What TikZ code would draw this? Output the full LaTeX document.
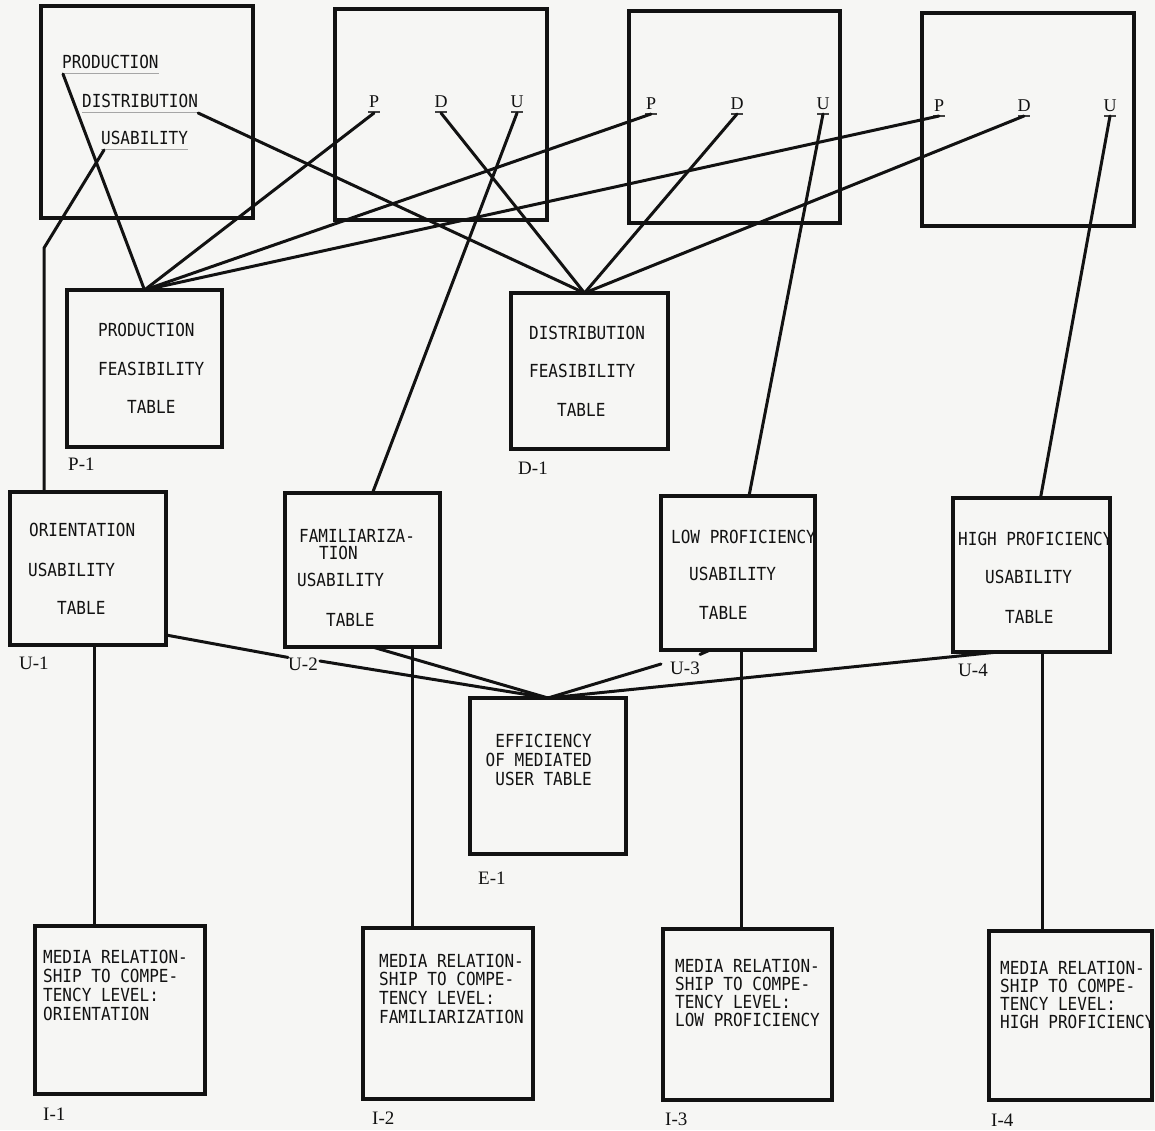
\documentclass[tikz,border=0pt]{standalone}
\usepackage{fontspec}
\usetikzlibrary{calc}
\newfontfamily\tw[FakeStretch=0.89]{DejaVu Sans Mono}
\newfontfamily\lb{Liberation Serif}
\definecolor{paper}{RGB}{246,246,244}
\definecolor{ink}{RGB}{18,18,18}
\begin{document}
\begin{tikzpicture}[x=1pt,y=-1pt,
  box/.style={draw=ink, line width=3.3pt, inner sep=0pt, outer sep=0pt, anchor=north west},
  conn/.style={draw=ink, line width=3pt, line cap=round},
  tx/.style={font=\tw\fontsize{18}{21}\selectfont, text=ink, inner sep=0pt, anchor=west},
  txr/.style={tx, anchor=east},
  lbl/.style={font=\lb\fontsize{19}{22}\selectfont, text=ink, inner sep=0pt, anchor=west},
  ltr/.style={font=\lb\fontsize{18}{20}\selectfont, text=ink, inner sep=0pt, anchor=base},
  ul/.style={draw=gray!70, line width=0.9pt},
  tick/.style={draw=ink!80, line width=1.2pt},
]
\fill[paper] (0,0) rectangle (1155,1130);
\useasboundingbox (0,0) rectangle (1155,1130);

% ---- top boxes
\node[box, minimum width=212pt, minimum height=212pt] (ta) at (41,6) {};
\node[box, minimum width=212pt, minimum height=211pt] (tb) at (335,9) {};
\node[box, minimum width=211pt, minimum height=212pt] (tc) at (629,11) {};
\node[box, minimum width=212pt, minimum height=213pt] (td) at (922,13) {};

\node[tx] (prodA) at (62,62) {PRODUCTION};
\node[tx] (distA) at (82,101) {DISTRIBUTION};
\node[tx] (usabA) at (101,138) {USABILITY};
\draw[ul] ($(prodA.south west)+(0,4)$) -- ($(prodA.south east)+(0,4)$);
\draw[ul] ($(distA.south west)+(0,4)$) -- ($(distA.south east)+(0,4)$);
\draw[ul] ($(usabA.south west)+(0,4)$) -- ($(usabA.south east)+(0,4)$);

\node[ltr] (bP) at (374,107) {P};
\node[ltr] (bD) at (441,107) {D};
\node[ltr] (bU) at (517,107) {U};
\node[ltr] (cP) at (651,109) {P};
\node[ltr] (cD) at (737,109) {D};
\node[ltr] (cU) at (823,109) {U};
\node[ltr] (dP) at (939,111) {P};
\node[ltr] (dD) at (1024,111) {D};
\node[ltr] (dU) at (1110,111) {U};
\foreach \n in {bP,bD,bU,cP,cD,cU,dP,dD,dU}{
  \draw[tick] ($(\n.base)+(-6,5)$) -- ($(\n.base)+(6,5)$);
}

% ---- feasibility tables
\node[box, minimum width=155pt, minimum height=157pt] (p1) at (67,290) {};
\node[tx] (p1a) at (98,330) {PRODUCTION};
\node[tx] (p1b) at (98,369) {FEASIBILITY};
\node[tx] (p1c) at (127,407) {TABLE};
\node[lbl] (p1l) at (68,464) {P-1};

\node[box, minimum width=157pt, minimum height=156pt] (d1) at (511,293) {};
\node[tx] (d1a) at (529,333) {DISTRIBUTION};
\node[tx] (d1b) at (529,371) {FEASIBILITY};
\node[tx] (d1c) at (557,410) {TABLE};
\node[lbl] (d1l) at (518,468) {D-1};

% ---- usability tables
\node[box, minimum width=156pt, minimum height=153pt] (u1) at (10,492) {};
\node[tx] (u1a) at (29,530) {ORIENTATION};
\node[tx] (u1b) at (28,570) {USABILITY};
\node[tx] (u1c) at (57,608) {TABLE};
\node[lbl] (u1l) at (19,663) {U-1};

\node[box, minimum width=155pt, minimum height=154pt] (u2) at (285,493) {};
\node[tx] (u2a) at (299,536) {FAMILIARIZA-};
\node[tx] (u2b) at (319,553) {TION};
\node[tx] (u2c) at (297,580) {USABILITY};
\node[tx] (u2d) at (326,620) {TABLE};
\node[lbl] (u2l) at (288,664) {U-2};

\node[box, minimum width=154pt, minimum height=154pt] (u3) at (661,496) {};
\node[tx] (u3a) at (671,537) {LOW PROFICIENCY};
\node[tx] (u3b) at (689,574) {USABILITY};
\node[tx] (u3c) at (699,613) {TABLE};
\node[lbl] (u3l) at (670,668) {U-3};

\node[box, minimum width=157pt, minimum height=154pt] (u4) at (953,498) {};
\node[tx] (u4a) at (958,539) {HIGH PROFICIENCY};
\node[tx] (u4b) at (985,577) {USABILITY};
\node[tx] (u4c) at (1005,617) {TABLE};
\node[lbl] (u4l) at (958,670) {U-4};

% ---- efficiency table
\node[box, minimum width=156pt, minimum height=156pt] (e1) at (470,698) {};
\node[txr] (e1a) at (592,741) {EFFICIENCY};
\node[txr] (e1b) at (592,760) {OF MEDIATED};
\node[txr] (e1c) at (592,779) {USER TABLE};
\node[lbl] (e1l) at (478,878) {E-1};

% ---- media relationship tables
\node[box, minimum width=170pt, minimum height=168pt] (i1) at (35,926) {};
\node[tx] (i1a) at (43,957) {MEDIA RELATION-};
\node[tx] (i1b) at (43,976) {SHIP TO COMPE-};
\node[tx] (i1c) at (43,995) {TENCY LEVEL:};
\node[tx] (i1d) at (43,1014) {ORIENTATION};
\node[lbl] (i1l) at (43,1114) {I-1};

\node[box, minimum width=170pt, minimum height=171pt] (i2) at (363,928) {};
\node[tx] (i2a) at (379,961) {MEDIA RELATION-};
\node[tx] (i2b) at (379,979) {SHIP TO COMPE-};
\node[tx] (i2c) at (379,998) {TENCY LEVEL:};
\node[tx] (i2d) at (379,1017) {FAMILIARIZATION};
\node[lbl] (i2l) at (372,1118) {I-2};

\node[box, minimum width=169pt, minimum height=171pt] (i3) at (663,929) {};
\node[tx] (i3a) at (675,966) {MEDIA RELATION-};
\node[tx] (i3b) at (675,984) {SHIP TO COMPE-};
\node[tx] (i3c) at (675,1002) {TENCY LEVEL:};
\node[tx] (i3d) at (675,1020) {LOW PROFICIENCY};
\node[lbl] (i3l) at (665,1119) {I-3};

\node[box, minimum width=163pt, minimum height=169pt] (i4) at (989,931) {};
\node[tx] (i4a) at (1000,968) {MEDIA RELATION-};
\node[tx] (i4b) at (1000,986) {SHIP TO COMPE-};
\node[tx] (i4c) at (1000,1004) {TENCY LEVEL:};
\node[tx] (i4d) at (1000,1022) {HIGH PROFICIENCY};
\node[lbl] (i4l) at (991,1120) {I-4};

% ---- connectors from the top boxes
\coordinate (ubend) at (44,248);
\draw[conn] ($(prodA.south west)+(1,5)$) -- (p1.north);
\draw[conn] ($(distA.south east)+(0,5)$) -- ($(d1.north)+(-5,0)$);
\draw[conn] ($(usabA.south west)+(3,5)$) -- (ubend) -- (ubend |- u1.north);
\draw[conn] ($(bP.base)+(0,6)$) -- (p1.north);
\draw[conn] ($(bD.base)+(0,6)$) -- ($(d1.north)+(-5,0)$);
\draw[conn] ($(bU.base)+(0,6)$) -- ($(u2.north)+(10,0)$);
\draw[conn] ($(cP.base)+(0,5)$) -- (p1.north);
\draw[conn] ($(cD.base)+(0,5)$) -- ($(d1.north)+(-5,0)$);
\draw[conn] ($(cU.base)+(0,5)$) -- ($(u3.north)+(11,0)$);
\draw[conn] ($(dP.base)+(0,5)$) -- (p1.north);
\draw[conn] ($(dD.base)+(0,5)$) -- ($(d1.north)+(-5,0)$);
\draw[conn] ($(dU.base)+(0,5)$) -- ($(u4.north)+(9,0)$);

% ---- connectors into the efficiency table
\draw[conn] ($(u1.south east)+(0,-10)$) -- (u2l.north west);
\draw[conn] ($(u2l.east)+(2,-3)$) -- (e1.north);
\draw[conn] ($(u2.south)+(10,0)$) -- (e1.north);
\draw[conn] ($(u3.south)+(-28,0)$) -- ($(u3l.north east)+(0,-7)$);
\draw[conn] ($(u3l.west)+(-9,-4)$) -- (e1.north);
\draw[conn] ($(u4.south west)+(45,0)$) -- (e1.north);

% ---- verticals to the media relationship tables
\coordinate (v1) at ($(u1.south west)+(84,0)$);
\coordinate (v2) at ($(u2.south west)+(127,0)$);
\coordinate (v3) at ($(u3.south west)+(80,0)$);
\coordinate (v4) at ($(u4.south west)+(89,0)$);
\draw[conn] (v1) -- (v1 |- i1.north);
\draw[conn] (v2) -- (v2 |- i2.north);
\draw[conn] (v3) -- (v3 |- i3.north);
\draw[conn] (v4) -- (v4 |- i4.north);
\end{tikzpicture}
\end{document}
